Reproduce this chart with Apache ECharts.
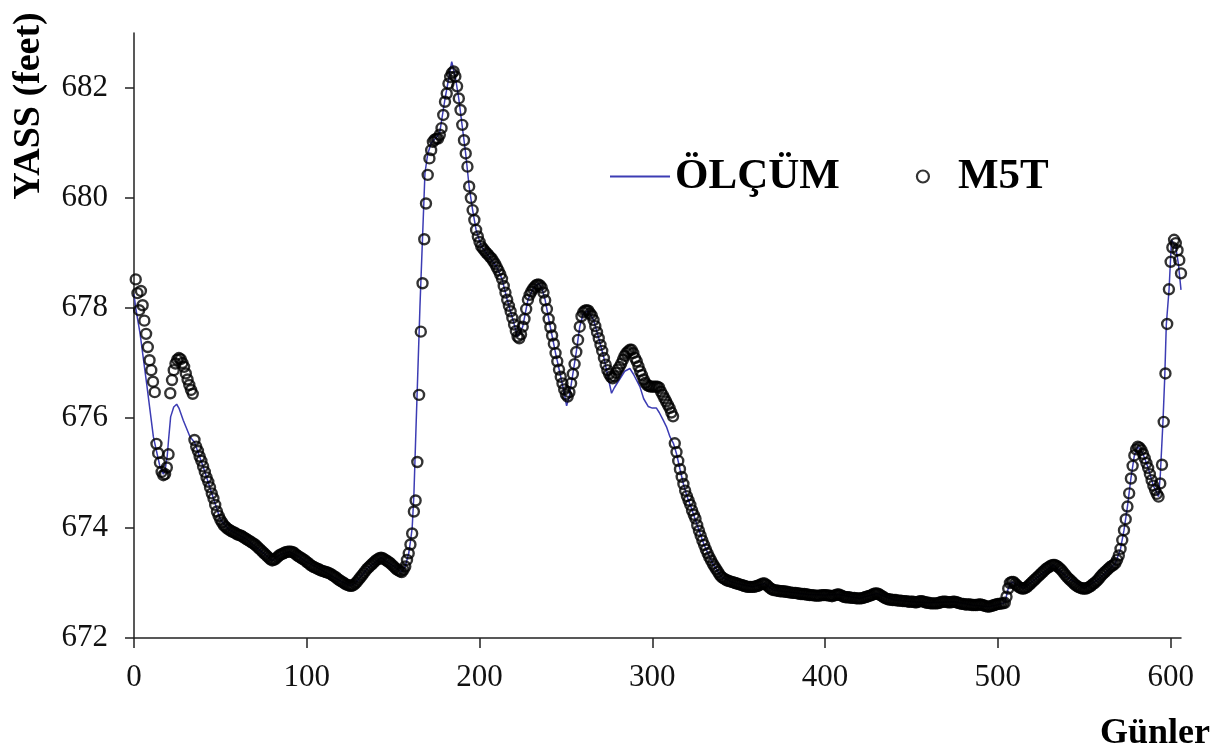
<!DOCTYPE html>
<html>
<head>
<meta charset="utf-8">
<script src="https://cdn.jsdelivr.net/npm/echarts@6/dist/echarts.min.js"></script>
<style>
html,body{margin:0;padding:0;background:#fff;}
#chart{width:1228px;height:755px;}
</style>
</head>
<body>
<div id="chart"></div>
<script>
// X ticks (days) and Y ticks (feet)
const xTickValues = [0, 100, 200, 300, 400, 500, 600];
const yTickValues = [672, 674, 676, 678, 680, 682];

// Series names
const lineName = 'ÖLÇÜM';
const scatterName = 'M5T';

// M5T model output, one value per day starting at day 1
const m5tStartDay = 1;
const m5tValues = [
678.52, 678.27, 677.96, 678.31, 678.05, 677.77, 677.53, 677.29, 677.05, 676.87,
676.66, 676.47, 675.53, 675.36, 675.19, 675.02, 674.96, 674.98, 675.10, 675.34,
676.45, 676.69, 676.87, 676.99, 677.06, 677.09, 677.07, 677.00, 676.93, 676.81,
676.70, 676.60, 676.51, 676.44, 675.60, 675.48, 675.40, 675.30, 675.22, 675.12,
675.02, 674.92, 674.84, 674.74, 674.63, 674.54, 674.42, 674.30, 674.22, 674.15,
674.10, 674.05, 674.02, 673.99, 673.97, 673.95, 673.93, 673.92, 673.90, 673.88,
673.87, 673.86, 673.84, 673.82, 673.80, 673.78, 673.76, 673.74, 673.72, 673.70,
673.67, 673.64, 673.61, 673.58, 673.55, 673.52, 673.49, 673.46, 673.43, 673.41,
673.42, 673.44, 673.47, 673.50, 673.52, 673.53, 673.55, 673.56, 673.57, 673.57,
673.57, 673.56, 673.54, 673.51, 673.49, 673.47, 673.45, 673.43, 673.41, 673.38,
673.36, 673.33, 673.31, 673.29, 673.28, 673.26, 673.25, 673.23, 673.22, 673.21,
673.20, 673.19, 673.18, 673.16, 673.14, 673.12, 673.10, 673.07, 673.05, 673.03,
673.01, 672.99, 672.97, 672.96, 672.95, 672.95, 672.96, 672.99, 673.02, 673.06,
673.10, 673.14, 673.18, 673.22, 673.26, 673.29, 673.32, 673.35, 673.38, 673.41,
673.43, 673.45, 673.46, 673.45, 673.43, 673.41, 673.39, 673.37, 673.34, 673.31,
673.28, 673.25, 673.23, 673.21, 673.20, 673.24, 673.30, 673.42, 673.54, 673.70,
673.90, 674.30, 674.50, 675.20, 676.42, 677.57, 678.45, 679.25, 679.90, 680.42,
680.72, 680.87, 681.02, 681.06, 681.08, 681.08, 681.15, 681.27, 681.51, 681.75,
681.90, 682.08, 682.20, 682.27, 682.30, 682.21, 682.03, 681.81, 681.60, 681.33,
681.05, 680.81, 680.57, 680.21, 680.00, 679.78, 679.60, 679.42, 679.30, 679.20,
679.12, 679.08, 679.04, 679.00, 678.97, 678.93, 678.90, 678.85, 678.80, 678.74,
678.68, 678.61, 678.53, 678.40, 678.28, 678.15, 678.04, 677.94, 677.82, 677.70,
677.58, 677.48, 677.45, 677.52, 677.66, 677.80, 677.98, 678.15, 678.24, 678.30,
678.35, 678.39, 678.42, 678.43, 678.41, 678.37, 678.28, 678.14, 677.98, 677.80,
677.65, 677.50, 677.35, 677.18, 677.03, 676.88, 676.75, 676.63, 676.52, 676.43,
676.39, 676.47, 676.63, 676.80, 676.98, 677.20, 677.42, 677.66, 677.85, 677.92,
677.95, 677.96, 677.95, 677.90, 677.86, 677.78, 677.67, 677.56, 677.45, 677.33,
677.22, 677.09, 676.97, 676.87, 676.80, 676.75, 676.72, 676.76, 676.82, 676.88,
676.93, 676.99, 677.06, 677.13, 677.18, 677.21, 677.24, 677.24, 677.18, 677.09,
677.03, 676.94, 676.85, 676.78, 676.70, 676.64, 676.60, 676.58, 676.57, 676.57,
676.57, 676.57, 676.57, 676.55, 676.48, 676.42, 676.36, 676.30, 676.24, 676.18,
676.10, 676.03, 675.54, 675.38, 675.22, 675.07, 674.93, 674.80, 674.68, 674.58,
674.50, 674.42, 674.32, 674.24, 674.17, 674.05, 673.95, 673.86, 673.77, 673.69,
673.61, 673.54, 673.47, 673.41, 673.35, 673.30, 673.25, 673.20, 673.15, 673.11,
673.09, 673.07, 673.05, 673.04, 673.03, 673.02, 673.01, 673.00, 672.99, 672.98,
672.97, 672.96, 672.95, 672.94, 672.93, 672.93, 672.93, 672.93, 672.93, 672.94,
672.95, 672.96, 672.98, 672.99, 672.99, 672.97, 672.94, 672.91, 672.89, 672.87,
672.87, 672.86, 672.86, 672.85, 672.85, 672.85, 672.84, 672.84, 672.83, 672.83,
672.82, 672.82, 672.82, 672.81, 672.81, 672.80, 672.80, 672.80, 672.79, 672.79,
672.78, 672.78, 672.78, 672.77, 672.77, 672.77, 672.77, 672.78, 672.78, 672.78,
672.78, 672.77, 672.77, 672.76, 672.77, 672.78, 672.79, 672.79, 672.78, 672.76,
672.75, 672.74, 672.74, 672.74, 672.73, 672.73, 672.73, 672.72, 672.72, 672.72,
672.72, 672.73, 672.74, 672.75, 672.76, 672.77, 672.78, 672.80, 672.81, 672.81,
672.80, 672.78, 672.76, 672.74, 672.72, 672.71, 672.70, 672.70, 672.69, 672.69,
672.69, 672.68, 672.68, 672.68, 672.67, 672.67, 672.67, 672.66, 672.66, 672.66,
672.66, 672.65, 672.65, 672.66, 672.67, 672.67, 672.66, 672.65, 672.64, 672.64,
672.63, 672.63, 672.63, 672.63, 672.63, 672.64, 672.65, 672.66, 672.66, 672.66,
672.65, 672.65, 672.65, 672.66, 672.66, 672.65, 672.64, 672.63, 672.62, 672.62,
672.61, 672.61, 672.61, 672.61, 672.60, 672.60, 672.60, 672.60, 672.61, 672.61,
672.60, 672.59, 672.58, 672.57, 672.57, 672.58, 672.59, 672.60, 672.61, 672.62,
672.62, 672.63, 672.63, 672.64, 672.75, 672.90, 673.00, 673.02, 673.02, 672.99,
672.96, 672.93, 672.91, 672.90, 672.90, 672.91, 672.93, 672.96, 672.99, 673.02,
673.05, 673.08, 673.11, 673.14, 673.17, 673.20, 673.23, 673.26, 673.28, 673.30,
673.32, 673.33, 673.33, 673.31, 673.29, 673.26, 673.23, 673.19, 673.15, 673.11,
673.08, 673.05, 673.02, 672.99, 672.96, 672.94, 672.92, 672.91, 672.90, 672.90,
672.90, 672.91, 672.93, 672.95, 672.98, 673.00, 673.03, 673.06, 673.10, 673.14,
673.17, 673.20, 673.23, 673.26, 673.29, 673.31, 673.33, 673.36, 673.42, 673.50,
673.62, 673.78, 673.96, 674.16, 674.39, 674.63, 674.90, 675.13, 675.32, 675.43,
675.48, 675.46, 675.42, 675.35, 675.27, 675.18, 675.09, 674.98, 674.87, 674.77,
674.69, 674.62, 674.57, 674.81, 675.15, 675.93, 676.81, 677.71, 678.34, 678.84,
679.10, 679.24, 679.18, 679.05, 678.87, 678.63
];

// ÖLÇÜM (measured) line: days and values
const olcumDays = [
0, 1, 3.5, 7.3, 11.2, 13, 15, 17, 18, 19.2,
20, 21.2, 23, 24.7, 26, 28.5, 32.4, 35, 40, 45,
50, 55, 65, 80, 85, 90, 95, 100, 110, 120,
125, 128, 135, 143, 150, 155, 157, 159, 160, 161,
162, 163, 165.5, 168.4, 170, 172, 175, 177, 180, 183.9,
186, 188, 190, 192, 194, 196, 198, 201, 204, 210,
213, 216, 219, 222, 223, 225, 228, 231, 234, 236,
238, 241, 244, 247, 249, 250.4, 252, 254, 256, 258,
260, 263, 266, 269, 272, 274, 276.4, 278, 281, 284,
287, 289, 292.8, 295, 297.6, 300, 302.4, 304, 306.3, 308.2,
310.2, 312.2, 314, 316, 318, 320, 322, 326, 330, 335,
340, 345, 350, 358, 365, 370, 380, 390, 400, 408,
420, 430, 440, 450, 460, 475, 485, 495, 504, 506,
508, 515, 522, 532, 540, 550, 558, 568, 571, 573,
575, 577, 579, 581, 584, 587, 590, 593, 594, 595.6,
596.6, 597.5, 599.1, 600.5, 601.5, 603, 604.5, 606
];
const olcumValues = [
678.25, 678.00, 677.54, 676.63, 675.66, 675.40, 675.12, 674.98, 675.05, 675.30,
675.60, 676.02, 676.20, 676.25, 676.18, 675.96, 675.66, 675.56, 675.12, 674.63,
674.15, 673.97, 673.80, 673.41, 673.52, 673.57, 673.49, 673.38, 673.21, 673.03,
672.95, 672.99, 673.26, 673.46, 673.31, 673.20, 673.30, 673.54, 673.75, 674.00,
674.60, 675.60, 678.02, 680.45, 680.80, 681.00, 681.10, 681.20, 681.80, 682.48,
682.20, 681.80, 681.30, 680.80, 680.20, 679.78, 679.42, 679.12, 679.00, 678.74,
678.53, 678.15, 677.82, 677.48, 677.45, 677.66, 678.15, 678.35, 678.45, 678.37,
678.14, 677.65, 677.18, 676.75, 676.45, 676.22, 676.40, 676.80, 677.20, 677.66,
677.90, 677.95, 677.78, 677.45, 677.09, 676.80, 676.45, 676.55, 676.70, 676.85,
676.90, 676.80, 676.57, 676.35, 676.21, 676.18, 676.18, 676.10, 675.96, 675.84,
675.66, 675.54, 675.35, 675.07, 674.80, 674.58, 674.42, 674.05, 673.69, 673.35,
673.11, 673.03, 672.98, 672.93, 672.99, 672.87, 672.83, 672.79, 672.78, 672.79,
672.72, 672.81, 672.69, 672.66, 672.64, 672.66, 672.60, 672.57, 672.64, 672.90,
673.02, 672.90, 673.08, 673.33, 673.11, 672.90, 673.06, 673.36, 673.62, 673.96,
674.39, 674.90, 675.32, 675.48, 675.35, 675.09, 674.77, 674.57, 674.95, 675.96,
676.75, 677.70, 678.34, 679.24, 679.25, 679.10, 678.80, 678.33
];

const serif = '"Liberation Serif", "Times New Roman", serif';
const lineColor = '#3c3cb4';

const chart = echarts.init(document.getElementById('chart'), null, {renderer: 'canvas'});

const lineData = olcumDays.map((d, i) => [d, olcumValues[i]]);
const scatterData = m5tValues.map((v, i) => [m5tStartDay + i, v]);

chart.setOption({
  animation: false,
  backgroundColor: '#fff',
  grid: {left: 134, right: 47, top: 33, bottom: 117, containLabel: false, outerBoundsMode: 'none'},
  legend: {
    data: [
      {name: lineName, itemStyle: {opacity: 0}, lineStyle: {color: lineColor, width: 2}},
      {name: scatterName, itemStyle: {color: 'rgba(255,255,255,0)', borderColor: '#000', borderWidth: 2.2}}
    ],
    left: 604, top: 150,
    itemWidth: 60, itemHeight: 12, itemGap: 76,
    textStyle: {fontFamily: serif, fontWeight: 'bold', fontSize: 43, color: '#000'}
  },
  xAxis: {
    type: 'value', min: 0, max: 606, interval: 100,
    axisLine: {show: true, lineStyle: {color: '#222', width: 1.5}},
    axisTick: {show: true, inside: false, length: 10, customValues: xTickValues, lineStyle: {color: '#222', width: 1.5}},
    axisLabel: {customValues: xTickValues, margin: 24, fontFamily: serif, fontSize: 31, color: '#111'},
    splitLine: {show: false}
  },
  yAxis: {
    type: 'value', min: 672, max: 683, interval: 2,
    axisLine: {show: true, lineStyle: {color: '#222', width: 1.5}},
    axisTick: {show: true, inside: false, length: 9, customValues: yTickValues, lineStyle: {color: '#222', width: 1.5}},
    axisLabel: {customValues: yTickValues, margin: 26, fontFamily: serif, fontSize: 31, color: '#111'},
    splitLine: {show: false}
  },
  graphic: [
    {type: 'text', x: 29, y: 106, rotation: Math.PI / 2,
     style: {text: 'YASS (feet)', fontFamily: serif, fontWeight: 'bold', fontSize: 38, fill: '#000', align: 'center', verticalAlign: 'middle'}},
    {type: 'text', x: 1155, y: 734,
     style: {text: 'Günler', fontFamily: serif, fontWeight: 'bold', fontSize: 36, fill: '#000', align: 'center', verticalAlign: 'middle'}}
  ],
  series: [
    {
      name: lineName, type: 'line', data: lineData,
      symbol: 'none', showSymbol: false, z: 2,
      lineStyle: {color: lineColor, width: 1.5},
      itemStyle: {color: lineColor}
    },
    {
      name: scatterName, type: 'scatter', data: scatterData,
      symbol: 'circle', symbolSize: 10, z: 3,
      itemStyle: {color: 'rgba(255,255,255,0)', borderColor: '#000', borderWidth: 2.4}
    }
  ]
});
</script>
</body>
</html>
